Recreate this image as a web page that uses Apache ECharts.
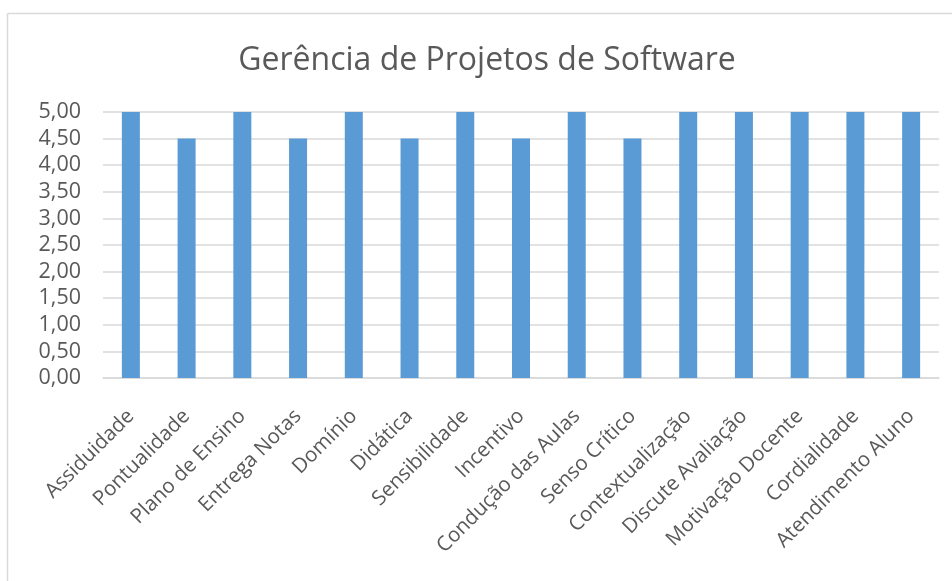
<!DOCTYPE html>
<html>
<head>
<meta charset="utf-8">
<script src="https://cdn.jsdelivr.net/npm/echarts@6/dist/echarts.min.js"></script>
<style>
  html, body { margin: 0; padding: 0; background: #ffffff; }
  #chart { width: 952px; height: 581px; }
</style>
</head>
<body>
<div id="chart"></div>
<script>
// Course evaluation scores per criterion
const titleText = 'Gerência de Projetos de Software';
const categories = [
  'Assiduidade', 'Pontualidade', 'Plano de Ensino', 'Entrega Notas', 'Domínio',
  'Didática', 'Sensibilidade', 'Incentivo', 'Condução das Aulas', 'Senso Crítico',
  'Contextualização', 'Discute Avaliação', 'Motivação Docente', 'Cordialidade', 'Atendimento Aluno'
];
const scores = [5, 4.5, 5, 4.5, 5, 4.5, 5, 4.5, 5, 4.5, 5, 5, 5, 5, 5];

const textColor = '#595959';
const fontFamily = '"Open Sans", "Noto Sans", sans-serif';

const chart = echarts.init(document.getElementById('chart'), null, { renderer: 'canvas' });
chart.setOption({
  backgroundColor: '#ffffff',
  animation: false,
  title: {
    text: titleText,
    left: 482,
    textAlign: 'center',
    top: 40,
    textStyle: { color: textColor, fontFamily: fontFamily, fontSize: 32, fontWeight: 'normal' }
  },
  graphic: [
    { type: 'line', shape: { x1: 7.5, y1: 13.5, x2: 952, y2: 13.5 }, style: { stroke: '#d9d9d9', lineWidth: 1.5 } },
    { type: 'line', shape: { x1: 7.5, y1: 13.5, x2: 7.5, y2: 581 }, style: { stroke: '#d9d9d9', lineWidth: 1.5 } }
  ],
  grid: { left: 103, right: 13, top: 112, bottom: 203, containLabel: false },
  xAxis: {
    type: 'category',
    data: categories,
    axisLine: { show: true, lineStyle: { color: '#d9d9d9', width: 1.5 } },
    axisTick: { show: false },
    axisLabel: {
      interval: 0,
      rotate: 45,
      margin: 35,
      color: textColor,
      fontFamily: fontFamily,
      fontSize: 20.5
    }
  },
  yAxis: {
    type: 'value',
    min: 0,
    max: 5,
    interval: 0.5,
    axisLine: { show: false },
    axisTick: { show: false },
    splitLine: { lineStyle: { color: '#d9d9d9', width: 1.5 } },
    axisLabel: {
      margin: 22,
      color: textColor,
      fontFamily: fontFamily,
      fontSize: 21.5,
      formatter: v => v.toFixed(2).replace('.', ',')
    }
  },
  series: [{
    type: 'bar',
    data: scores,
    barWidth: 18,
    itemStyle: { color: '#5b9bd5' }
  }]
});
</script>
</body>
</html>
